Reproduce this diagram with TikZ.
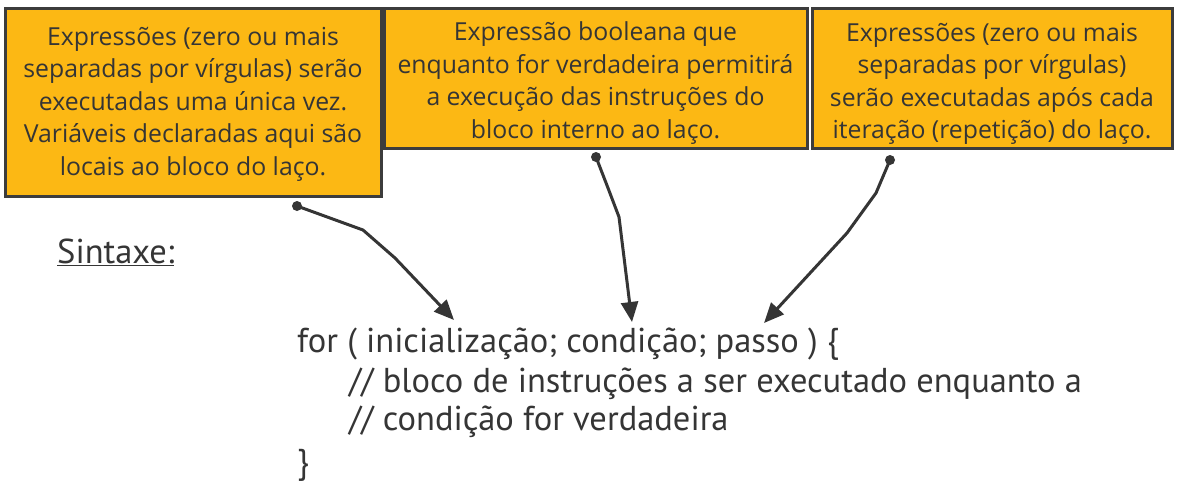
\documentclass[tikz,border=0pt]{standalone}
\usepackage{fontspec}
\setmainfont{PT Sans}
\newfontfamily\boxfont{Open Sans}
\usetikzlibrary{arrows.meta}
\definecolor{boxfill}{HTML}{FCB814}
\definecolor{ink}{HTML}{353535}
\definecolor{edge}{HTML}{3C3C3C}
\begin{document}
\begin{tikzpicture}[x=1pt,y=-1pt,
  note/.style={draw=edge,line width=3pt,fill=boxfill,inner sep=0pt},
  notetext/.style={text=ink,align=center,inner sep=0pt,
    font=\boxfont\fontsize{24.8}{32.5}\selectfont},
  conn/.style={draw=ink,line width=3pt,line join=round,
    -{Triangle[length=20pt,width=17pt]}},
  dot/.style={fill=ink},
  code/.style={anchor=base west,inner sep=0pt,text=ink,font=\fontsize{34.5}{40}\selectfont}
]
\useasboundingbox (0,0) rectangle (1177,491);
\fill[white] (0,0) rectangle (1177,491);

\node[note,minimum width=376pt,minimum height=188pt] (b1) at (193,102) {};
\node[notetext] (b1t) at (193,104)
  {Expressões (zero ou mais\\separadas por vírgulas) serão\\executadas uma única vez.\\Variáveis declaradas aqui são\\locais ao bloco do laço.};
\node[note,minimum width=423pt,minimum height=140pt] (b2) at (595.5,78) {};
\node[notetext] (b2t) at (595.5,83)
  {Expressão booleana que\\enquanto for verdadeira permitirá\\a execução das instruções do\\bloco interno ao laço.};
\node[note,minimum width=360pt,minimum height=140pt] (b3) at (992,78) {};
\node[notetext] (b3t) at (992,84)
  {Expressões (zero ou mais\\separadas por vírgulas)\\serão executadas após cada\\iteração (repetição) do laço.};

\node[code] (sx) at (57,263) {\underline{Sintaxe:}};

\node[code] (l1) at (297,352) {for ( inicialização; condição; passo ) \{};
\node[code] (l2) at (349,392) {// bloco de instruções a ser executado enquanto a};
\node[code] (l3) at (349,430) {// condição for verdadeira};
\node[code] (l4) at (297,473) {\}};

\coordinate (d1) at (297,206);
\coordinate (t1) at (454,320);
\coordinate (d2) at (596,157);
\coordinate (t2) at (632,322);
\coordinate (d3) at (890,160);
\coordinate (t3) at (764,323);

\draw[conn] (d1) -- (363,230) -- (395,258) -- (t1);
\draw[conn] (d2) -- (608,188) -- (619,217) -- (t2);
\draw[conn] (d3) -- (876,193) -- (847,233) -- (t3);
\fill[dot] (d1) circle (5pt);
\fill[dot] (d2) circle (5pt);
\fill[dot] (d3) circle (5pt);
\end{tikzpicture}
\end{document}
